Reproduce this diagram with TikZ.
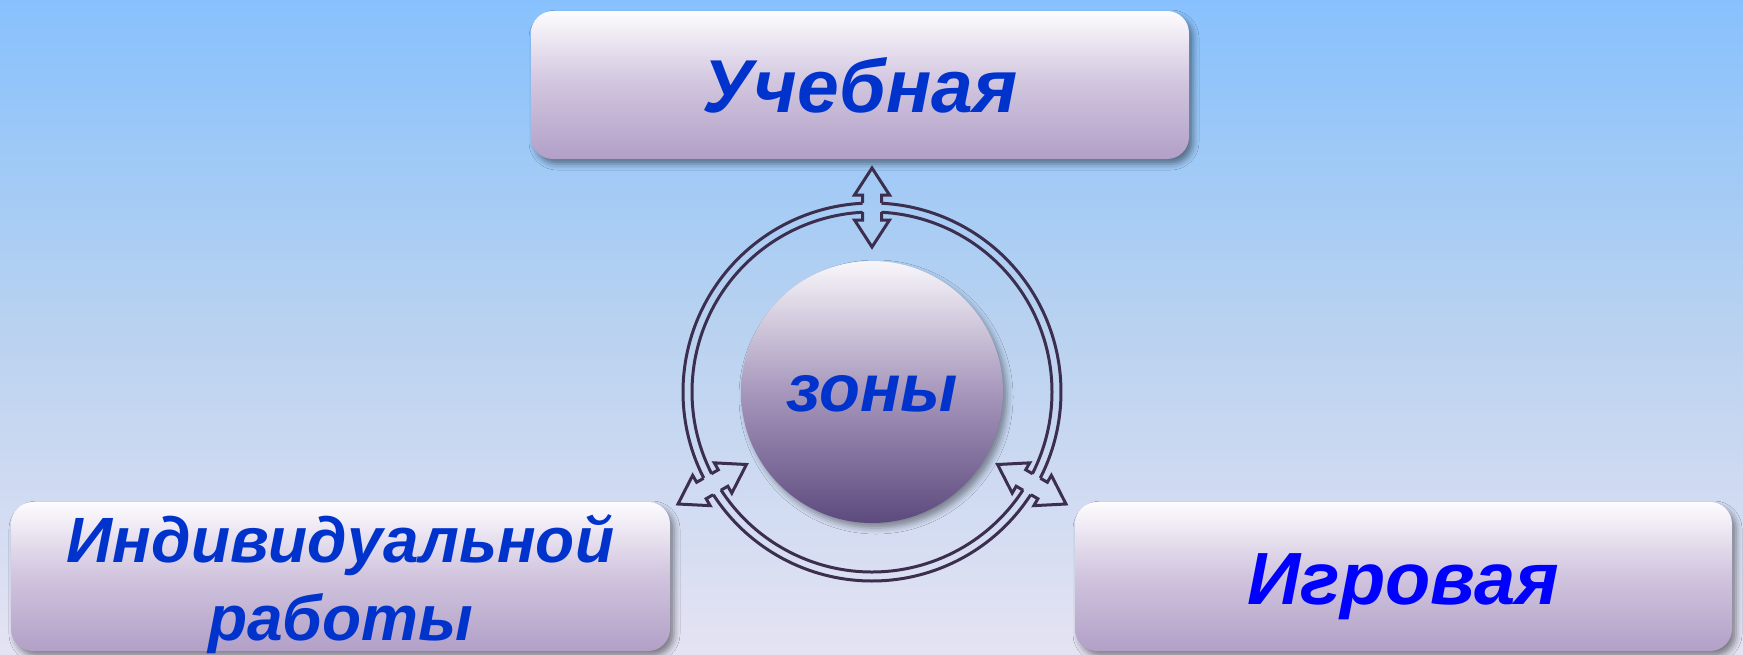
\documentclass[tikz,border=0pt]{standalone}
\usepackage{fontspec}
\setmainfont{Liberation Sans}
\usetikzlibrary{calc,shadows.blur}
\definecolor{bgtop}{HTML}{87C1FD}
\definecolor{bgmid}{HTML}{B9D2F0}
\definecolor{bgbot}{HTML}{E5E3F3}
\definecolor{boxtop}{HTML}{FDFCFE}
\definecolor{boxmid}{HTML}{D0C4DE}
\definecolor{boxbot}{HTML}{B2A0C7}
\definecolor{circtop}{HTML}{F8F6FA}
\definecolor{circmid}{HTML}{A797BC}
\definecolor{circbot}{HTML}{5D4A7E}
\definecolor{txtblue}{HTML}{0033CC}
\definecolor{txtpure}{HTML}{0000FF}
\definecolor{ringcol}{HTML}{3C2E4F}
\tikzset{
  zonebox/.style={rectangle, rounded corners=22pt, minimum width=658pt, minimum height=148pt,
    inner sep=0pt, top color=boxtop, bottom color=boxbot, middle color=boxmid,
    blur shadow={shadow xshift=4pt, shadow yshift=-5pt, shadow blur radius=6pt, shadow opacity=45},
    text=txtblue, align=center},
  zonecirc/.style={circle, minimum size=262pt, inner sep=0pt,
    top color=circtop, bottom color=circbot, middle color=circmid,
    blur shadow={shadow xshift=4pt, shadow yshift=-5pt, shadow blur radius=6pt, shadow opacity=40},
    text=txtblue},
  zline/.style={draw=ringcol, line width=3pt, line join=miter}
}
\begin{document}
\begin{tikzpicture}[x=1pt,y=-1pt]
\useasboundingbox (0,0) rectangle (1743,654);
\fill[top color=bgtop, bottom color=bgbot, middle color=bgmid] (0,0) rectangle (1743,654);

% boxes
\node[zonebox, font=\bfseries\itshape\fontsize{75}{90}\selectfont, text height=54pt, text depth=0pt]
  (uch) at (860,85) {Учебная};
\node[zonebox, minimum width=659pt, minimum height=149pt, font=\bfseries\itshape\fontsize{64}{78}\selectfont,
  text height=127pt, text depth=0pt]
  (ind) at (340.5,576.5) {Индивидуальной\\работы};
\node[zonebox, minimum width=657pt, minimum height=149pt, font=\bfseries\itshape\fontsize{74}{90}\selectfont,
  text=txtpure, text height=55pt, text depth=0pt]
  (igr) at (1403.5,576.5) {Игровая};

% ring with arrows
\coordinate (C) at (872,392);
\def\R{184.5}
\foreach \s/\e in {30/150,150/270,270/390}{
  \draw[zline] ($(C)+({\s+2.9}:189)$) arc[start angle={\s+2.9}, end angle={\e-2.9}, radius=189];
  \draw[zline] ($(C)+({\s+3.0}:180)$) arc[start angle={\s+3.0}, end angle={\e-3.0}, radius=180];
}
\foreach \a in {270,150,30}{
  \draw[zline] ($(C)+(\a:{\R+4.5})+({\a+90}:-9.5)$)
    -- ($(C)+(\a:{\R+12.5})+({\a+90}:-9.5)$)
    -- ($(C)+(\a:{\R+12.5})+({\a+90}:-17.5)$)
    -- ($(C)+(\a:{\R+39.5})$)
    -- ($(C)+(\a:{\R+12.5})+({\a+90}:17.5)$)
    -- ($(C)+(\a:{\R+12.5})+({\a+90}:9.5)$)
    -- ($(C)+(\a:{\R+4.5})+({\a+90}:9.5)$);
  \draw[zline] ($(C)+(\a:{\R-4.5})+({\a+90}:-9.5)$)
    -- ($(C)+(\a:{\R-12.5})+({\a+90}:-9.5)$)
    -- ($(C)+(\a:{\R-12.5})+({\a+90}:-17.5)$)
    -- ($(C)+(\a:{\R-39.5})$)
    -- ($(C)+(\a:{\R-12.5})+({\a+90}:17.5)$)
    -- ($(C)+(\a:{\R-12.5})+({\a+90}:9.5)$)
    -- ($(C)+(\a:{\R-4.5})+({\a+90}:9.5)$);
}

% centre
\node[zonecirc, font=\bfseries\itshape\fontsize{67}{80}\selectfont, text height=39.4pt, text depth=0pt]
  (zon) at (C) {зоны};
\end{tikzpicture}
\end{document}
